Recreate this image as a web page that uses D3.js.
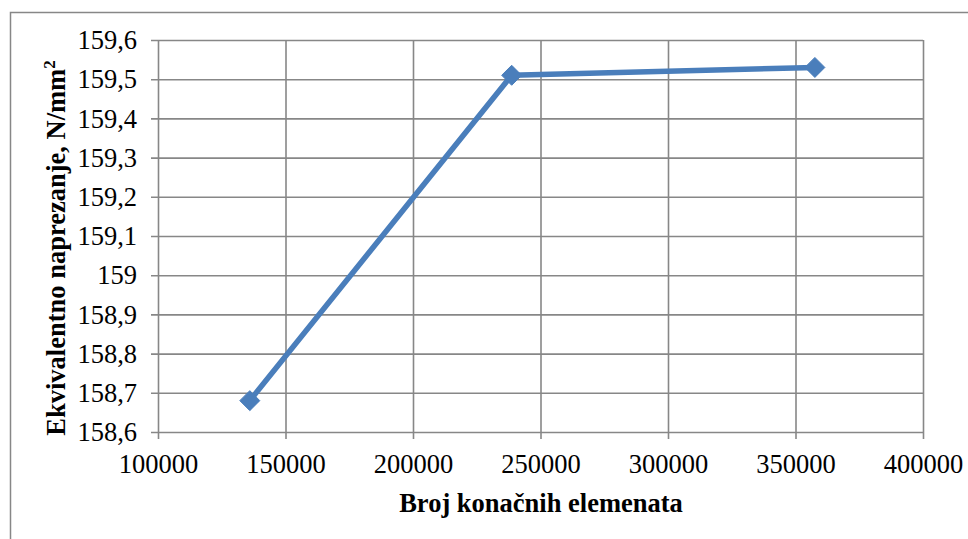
<!DOCTYPE html>
<html>
<head>
<meta charset="utf-8">
<script src="https://cdn.jsdelivr.net/npm/d3@7"></script>
<style>
  html, body { margin: 0; padding: 0; background: #fff; }
  svg { display: block; }
</style>
</head>
<body>
<svg id="chart" width="968" height="539"></svg>
<script>
// Number of finite elements vs. equivalent stress
const elements = [136000, 238700, 357600];
const stress = [158.68, 159.51, 159.53];
const xTicks = [100000, 150000, 200000, 250000, 300000, 350000, 400000];
const yTicks = [158.6, 158.7, 158.8, 158.9, 159.0, 159.1, 159.2, 159.3, 159.4, 159.5, 159.6];
const xTitle = "Broj konačnih elemenata";
const yTitle = "Ekvivalentno naprezanje, N/mm";

const serif = "Liberation Serif, Times New Roman, serif";
const fontSize = "26.5px";

const svg = d3.select("#chart");
const plot = { left: 158, right: 923, top: 40, bottom: 432 };
const gridColor = "#878787";
const lineColor = "#4a7ebb";

// outer chart frame
svg.append("rect")
  .attr("x", 10.5).attr("y", 12.5)
  .attr("width", 980).attr("height", 560)
  .attr("fill", "none").attr("stroke", gridColor).attr("stroke-width", 1.5);

const x = d3.scaleLinear().domain([100000, 400000]).range([plot.left, plot.right]);
const y = d3.scaleLinear().domain([158.6, 159.6]).range([plot.bottom, plot.top]);

const fmtY = v => d3.format(".1f")(v).replace(".", ",").replace(/,0$/, "");

// horizontal grid + y axis
const yAxis = d3.axisLeft(y).tickValues(yTicks).tickFormat(fmtY).tickSizeOuter(0);
const gy = svg.append("g").attr("transform", `translate(${plot.left},0)`).call(yAxis)
  .attr("font-family", serif).attr("font-size", fontSize);
gy.select(".domain").remove();
gy.selectAll(".tick line")
  .attr("x1", -7).attr("x2", plot.right - plot.left)
  .attr("stroke", gridColor).attr("stroke-width", 1.6);
gy.selectAll(".tick text")
  .attr("x", -21).attr("dy", "0.33em").attr("fill", "#000");

// vertical grid + x axis
const xAxis = d3.axisBottom(x).tickValues(xTicks).tickFormat(d3.format("d")).tickSizeOuter(0);
const gx = svg.append("g").attr("transform", `translate(0,${plot.bottom})`).call(xAxis)
  .attr("font-family", serif).attr("font-size", fontSize);
gx.select(".domain").remove();
gx.selectAll(".tick line")
  .attr("y1", -(plot.bottom - plot.top)).attr("y2", 7)
  .attr("stroke", gridColor).attr("stroke-width", 1.6);
gx.selectAll(".tick text")
  .attr("y", 22).attr("fill", "#000");

// axis titles
svg.append("text")
  .attr("x", 541).attr("y", 512)
  .attr("text-anchor", "middle")
  .attr("font-family", serif)
  .attr("font-size", fontSize).attr("font-weight", "bold")
  .text(xTitle);

const yt = svg.append("text")
  .attr("transform", "translate(65,248) rotate(-90)")
  .attr("text-anchor", "middle")
  .attr("font-family", serif)
  .attr("font-size", fontSize).attr("font-weight", "bold");
yt.append("tspan").text(yTitle);
yt.append("tspan").attr("dy", -10).attr("font-size", "17px").text("2");

// data line
const pts = elements.map((e, i) => [e, stress[i]]);
svg.append("path")
  .datum(pts)
  .attr("fill", "none")
  .attr("stroke", lineColor)
  .attr("stroke-width", 5.5)
  .attr("stroke-linejoin", "round")
  .attr("d", d3.line().x(d => x(d[0])).y(d => y(d[1])));

// diamond markers
svg.selectAll(".marker")
  .data(pts)
  .join("path")
  .attr("class", "marker")
  .attr("transform", d => `translate(${x(d[0])},${y(d[1])})`)
  .attr("d", "M0,-10L10,0L0,10L-10,0Z")
  .attr("fill", lineColor)
  .attr("stroke", lineColor)
  .attr("stroke-width", 1);
</script>
</body>
</html>
